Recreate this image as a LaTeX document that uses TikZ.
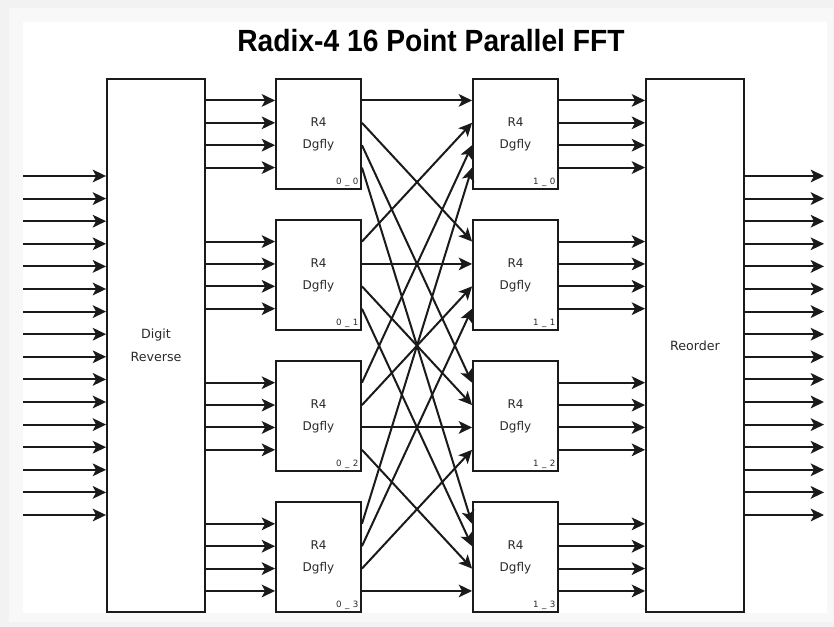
\documentclass[tikz,border=0pt]{standalone}
\usepackage{fontspec}
\setmainfont{DejaVu Sans}
\newfontfamily\ttlfont{Liberation Sans}[FakeStretch=0.92]
\newfontfamily\tagfont{DejaVu Sans}[LetterSpace=40]
\usetikzlibrary{arrows.meta,positioning,calc}
\definecolor{edge}{HTML}{1A1A1A}
\definecolor{ink}{HTML}{2A2A2A}
\definecolor{frame}{HTML}{F2F2F2}
\definecolor{frame2}{HTML}{F8F8F8}

\begin{document}
\begin{tikzpicture}[x=0.75pt,y=-0.75pt,node distance=21.95pt,
  blk/.style={draw=edge,line width=1.4pt,fill=white,minimum width=63.75pt,minimum height=82.5pt,inner sep=0pt,align=center,text=ink,font=\fontsize{9}{16.5}\selectfont},
  tall/.style={blk,minimum width=73.5pt,minimum height=399.75pt,font=\fontsize{9.5}{17.25}\selectfont},
  tag/.style={anchor=south east,inner sep=2.5pt,text=ink,font=\tagfont\fontsize{6.5}{7}\selectfont},
  sig/.style={-{Stealth[length=10pt,width=9.5pt,inset=2.5pt]},line width=1.5pt,edge}]
  \useasboundingbox (0,0) rectangle (834,627);
  \fill[frame] (0,0) rectangle (834,627);
  \fill[frame2] (9,8) rectangle (833,622);
  \fill[white] (23,22) rectangle (827,613);

  \node[font=\ttlfont\bfseries\fontsize{23}{26}\selectfont,anchor=base] (ttl) at (431,52) {Radix-4 16 Point Parallel FFT};

  % outer blocks
  \node[tall] (dr) at (156,345.5) {Digit\\Reverse};
  \node[tall] (ro) at (695,345.5) {Reorder};

  % butterfly stages
  \node[blk] (a0) at (318.5,134) {R4\\Dgfly};
  \node[blk,below=of a0] (a1) {R4\\Dgfly};
  \node[blk,below=of a1] (a2) {R4\\Dgfly};
  \node[blk,below=of a2] (a3) {R4\\Dgfly};
  \node[blk,right=82.6pt of a0] (b0) {R4\\Dgfly};
  \node[blk,below=of b0] (b1) {R4\\Dgfly};
  \node[blk,below=of b1] (b2) {R4\\Dgfly};
  \node[blk,below=of b2] (b3) {R4\\Dgfly};
  \foreach \i in {0,...,3} {
    \node[tag] (ta\i) at (a\i.south east) {0\_\i};
    \node[tag] (tb\i) at (b\i.south east) {1\_\i};
  }

  % ports
  \foreach \i in {0,...,3}
    \foreach \j/\f in {0/0.2,1/0.4,2/0.6,3/0.8} {
      \coordinate (aw\i\j) at ($(a\i.north west)!\f!(a\i.south west)$);
      \coordinate (ae\i\j) at ($(a\i.north east)!\f!(a\i.south east)$);
      \coordinate (bw\i\j) at ($(b\i.north west)!\f!(b\i.south west)$);
      \coordinate (be\i\j) at ($(b\i.north east)!\f!(b\i.south east)$);
    }

  % inputs and outputs
  \foreach \k in {0,...,15} {
    \coordinate (in\k) at ({23},{345.5+(\k-7.5)*22.6});
    \coordinate (out\k) at ({824},{345.5+(\k-7.5)*22.6});
    \draw[sig] (in\k) -- (in\k -| dr.west);
    \draw[sig] (out\k -| ro.east) -- (out\k);
  }

  % stage links
  \foreach \i in {0,...,3}
    \foreach \j in {0,...,3} {
      \draw[sig] (aw\i\j -| dr.east) -- (aw\i\j);
      \draw[sig] (ae\i\j) -- (bw\j\i);
      \draw[sig] (be\i\j) -- (be\i\j -| ro.west);
    }
\end{tikzpicture}
\end{document}
